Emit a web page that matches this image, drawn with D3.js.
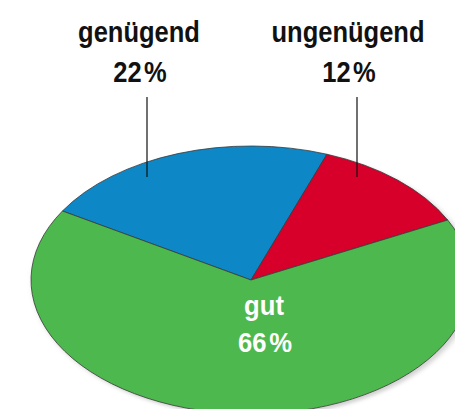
<!DOCTYPE html>
<html>

<head>
  <meta charset="utf-8">
  <title>Bewertung</title>
  <script type="text/javascript" src="https://cdn.jsdelivr.net/npm/d3@7"></script>
  <style type="text/css">
    body { margin: 0; background: #fff; }
    text { font-family: "Liberation Sans Narrow", "Liberation Sans", sans-serif; font-weight: bold; }
  </style>
</head>

<body>
  <script type="text/javascript">

    // Data
    const categories = ["genügend", "ungenügend", "gut"];
    const values = [22, 12, 66];
    const percentLabels = ["22", "12", "66"];

    // Width and height
    const w = 455;
    const h = 409;

    // ellipse geometry
    const cx = 251, cy = 280;
    const rx = 220, ry = 134;
    const start = -59 * Math.PI / 180;

    const color = d3.scaleOrdinal()
      .domain(categories)
      .range(["#0a87c6", "#d6002b", "#4db84d"]);

    const svg = d3.select("body")
      .append("svg")
      .attr("width", w)
      .attr("height", h);

    // soft shadow under the pie
    const defs = svg.append("defs");
    defs.append("filter")
      .attr("id", "shadow")
      .attr("x", "-10%").attr("y", "-10%")
      .attr("width", "120%").attr("height", "130%")
      .append("feDropShadow")
      .attr("dx", 3).attr("dy", 4)
      .attr("stdDeviation", 3)
      .attr("flood-color", "#000")
      .attr("flood-opacity", 0.18);

    const pie = d3.pie()
      .sort(null)
      .startAngle(start)
      .endAngle(start + 2 * Math.PI)
      .value(function (d, i) { return values[i]; });

    const arc = d3.arc().innerRadius(0).outerRadius(rx);

    const g = svg.append("g")
      .attr("filter", "url(#shadow)")
      .attr("transform", "translate(" + cx + "," + cy + ") scale(1," + (ry / rx) + ")");

    g.selectAll("path")
      .data(pie(categories))
      .enter()
      .append("path")
      .attr("d", arc)
      .attr("fill", function (d) { return color(d.data); })
      .attr("stroke", "#3a3a3a")
      .attr("stroke-width", 0.8)
      .attr("vector-effect", "non-scaling-stroke");

    // condensed-looking text: squeeze horizontally
    function label(x, y, size, fill, sx, str, pct) {
      const t = svg.append("g")
        .attr("transform", "translate(" + x + "," + y + ") scale(" + sx + ",1)")
        .append("text")
        .attr("text-anchor", "middle")
        .attr("font-size", size)
        .attr("fill", fill);
      if (pct) {
        t.append("tspan").text(str);
        t.append("tspan").attr("dx", 3).text("%");
      } else {
        t.text(str);
      }
    }

    // labels above the pie with leader lines
    const outside = [
      { i: 0, x: 139, lineX: 147 },
      { i: 1, x: 348, lineX: 357 }
    ];

    outside.forEach(function (o) {
      label(o.x, 42, 30, "#111", 0.85, categories[o.i], false);
      label(o.x + 1, 82, 30, "#111", 0.85, percentLabels[o.i], true);

      svg.append("line")
        .attr("x1", o.lineX).attr("x2", o.lineX)
        .attr("y1", 97).attr("y2", 177)
        .attr("stroke", "#111")
        .attr("stroke-width", 1.2);
    });

    // label inside the green slice
    label(264, 315, 27, "#fff", 0.95, categories[2], false);
    label(265, 352, 27, "#fff", 0.95, percentLabels[2], true);

  </script>
</body>

</html>
